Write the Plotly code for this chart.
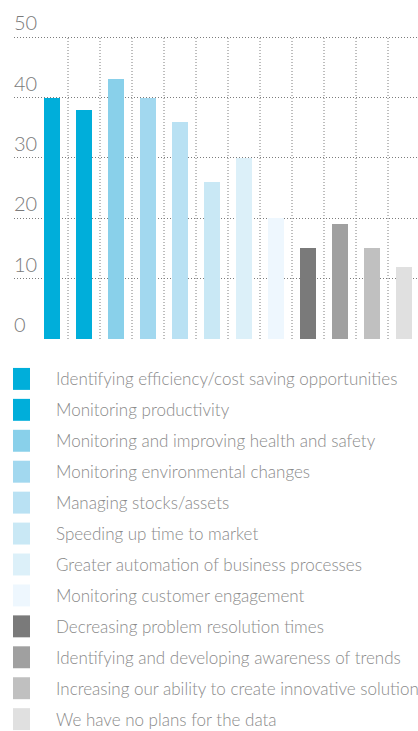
import plotly.graph_objects as go

# Survey answers: share of respondents (%) per planned use of data
categories = [
    "Identifying efficiency/cost saving opportunities",
    "Monitoring productivity",
    "Monitoring and improving health and safety",
    "Monitoring environmental changes",
    "Managing stocks/assets",
    "Speeding up time to market",
    "Greater automation of business processes",
    "Monitoring customer engagement",
    "Decreasing problem resolution times",
    "Identifying and developing awareness of trends",
    "Increasing our ability to create innovative solutions",
    "We have no plans for the data",
]
values = [40, 38, 43, 40, 36, 26, 30, 20, 15, 19, 15, 12]
colors = [
    "#00aeda", "#00aeda", "#89d0ea", "#a2d8ef", "#b9e1f3", "#c9e8f5",
    "#dcf0f9", "#eef7fe", "#7a7a7a", "#a0a0a0", "#c0c0c0", "#e0e0e0",
]
y_ticks = [0, 10, 20, 30, 40, 50]
y_top = 50

W, H = 418, 731
ML, MR = 14, 0
Y0_PX = 339.5        # pixel row of the zero line
PX_PER_UNIT = 6.05   # vertical scale
Y_MAX = 55           # headroom above the top gridline for its label
MT = Y0_PX - Y_MAX * PX_PER_UNIT
MB = H - Y0_PX
PLOT_W = W - ML - MR
PLOT_H = Y0_PX - MT

FONT = "Lato"
TXT = "#8a8a8a"
GRID = "#7c7c7c"
DOTS = "1px,2px"

positions = list(range(len(categories)))

fig = go.Figure(
    go.Bar(
        x=positions,
        y=values,
        marker=dict(color=colors, line=dict(width=0)),
        width=0.53,
        hovertext=categories,
        hoverinfo="text+y",
        showlegend=False,
    )
)


def px_x(px):
    return (px - ML) / PLOT_W


def px_y(py):
    return (Y0_PX - py) / PLOT_H


shapes = []
annotations = []

# Dotted dividers between categories, up to the top gridline
for p in positions[:-1]:
    shapes.append(dict(
        type="line", xref="x", yref="y", layer="below",
        x0=p + 0.5, x1=p + 0.5, y0=0, y1=y_top,
        line=dict(color=GRID, width=1, dash=DOTS),
    ))

# Legend: colour swatch + label per category
row0, step = 379.5, 31.0
for i, (name, col) in enumerate(zip(categories, colors)):
    cy = row0 + i * step
    shapes.append(dict(
        type="rect", xref="paper", yref="paper",
        x0=px_x(13), x1=px_x(30), y0=px_y(cy + 11), y1=px_y(cy - 11),
        fillcolor=col, line=dict(width=0),
    ))
    annotations.append(dict(
        xref="paper", yref="paper", x=px_x(54), y=px_y(cy),
        xanchor="left", yanchor="middle", showarrow=False,
        text=name, font=dict(family=FONT, size=17, color=TXT, weight=300),
    ))

fig.update_layout(
    width=W, height=H,
    margin=dict(l=ML, r=MR, t=MT, b=MB, pad=0),
    paper_bgcolor="white", plot_bgcolor="white",
    bargap=0,
    shapes=shapes,
    annotations=annotations,
    xaxis=dict(
        range=[-1.1875, 11.4375],
        showticklabels=False, ticks="", showgrid=False,
        zeroline=False, showline=False, fixedrange=True,
    ),
    yaxis=dict(
        range=[0, Y_MAX],
        tickvals=y_ticks,
        ticktext=[str(v) for v in y_ticks],
        ticklabelposition="inside top",
        ticklabelstandoff=-3,
        tickfont=dict(family=FONT, size=20, color="#7a7a7a", weight=300),
        ticks="",
        showgrid=True, gridcolor=GRID, griddash=DOTS, gridwidth=1,
        zeroline=False, showline=False, fixedrange=True,
    ),
    font=dict(family=FONT, color=TXT),
)

fig.write_html("out.html")
